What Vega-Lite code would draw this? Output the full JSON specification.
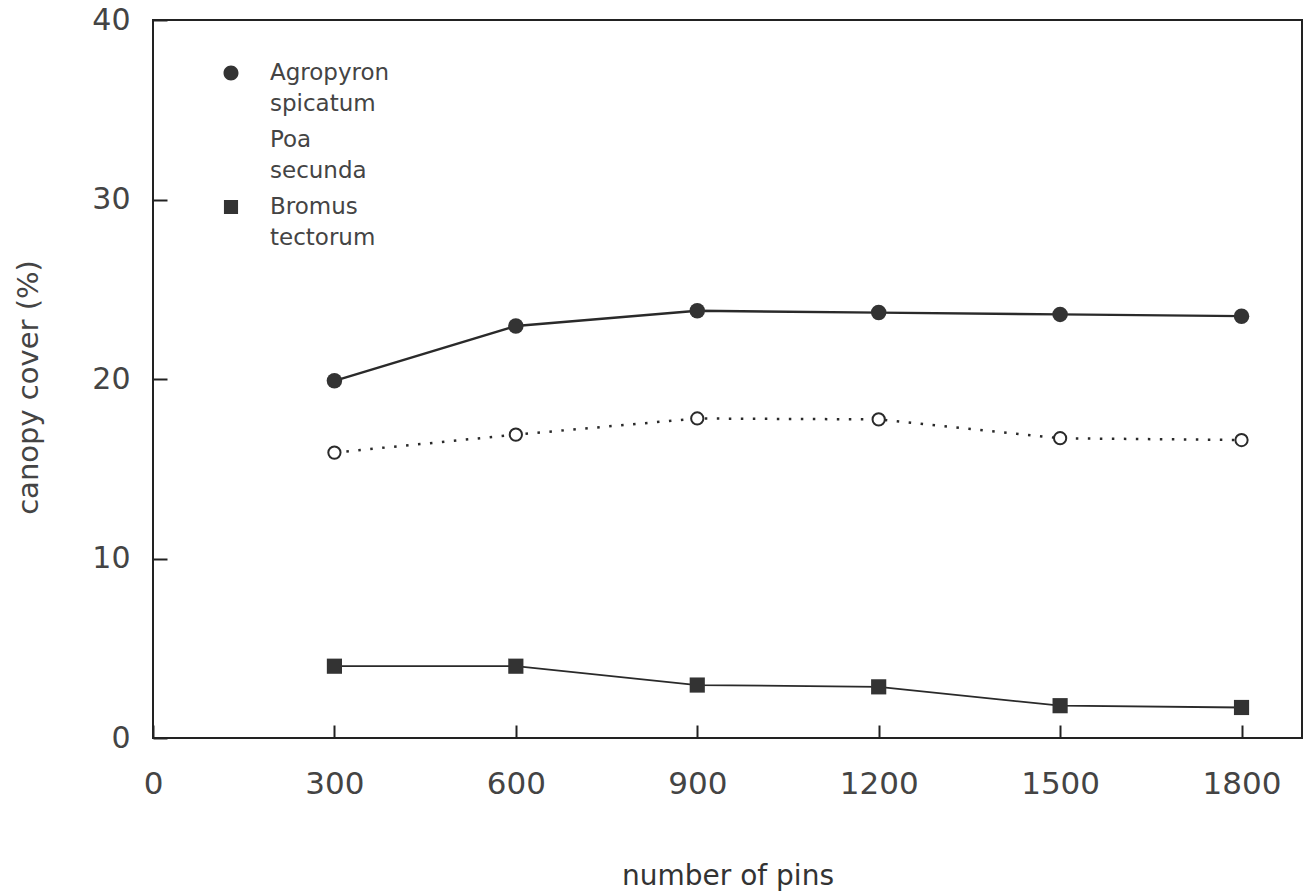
{
  "$schema": "https://vega.github.io/schema/vega-lite/v6.json",
  "width": 1149,
  "height": 718,
  "autosize": "none",
  "padding": {"left": 153, "top": 20, "right": 3, "bottom": 157},
  "background": "white",
  "config": {
    "view": {"stroke": "#222", "strokeWidth": 2},
    "font": "DejaVu Sans",
    "style": {"guide-label": {"lineHeight": 31}}
  },
  "data": {
    "values": [
      {"pins": 300, "cover": 19.9, "species": "Agropyron spicatum"},
      {"pins": 600, "cover": 22.95, "species": "Agropyron spicatum"},
      {"pins": 900, "cover": 23.8, "species": "Agropyron spicatum"},
      {"pins": 1200, "cover": 23.7, "species": "Agropyron spicatum"},
      {"pins": 1500, "cover": 23.6, "species": "Agropyron spicatum"},
      {"pins": 1800, "cover": 23.5, "species": "Agropyron spicatum"},
      {"pins": 300, "cover": 15.9, "species": "Poa secunda"},
      {"pins": 600, "cover": 16.9, "species": "Poa secunda"},
      {"pins": 900, "cover": 17.8, "species": "Poa secunda"},
      {"pins": 1200, "cover": 17.75, "species": "Poa secunda"},
      {"pins": 1500, "cover": 16.7, "species": "Poa secunda"},
      {"pins": 1800, "cover": 16.6, "species": "Poa secunda"},
      {"pins": 300, "cover": 4.0, "species": "Bromus tectorum"},
      {"pins": 600, "cover": 4.0, "species": "Bromus tectorum"},
      {"pins": 900, "cover": 2.95, "species": "Bromus tectorum"},
      {"pins": 1200, "cover": 2.85, "species": "Bromus tectorum"},
      {"pins": 1500, "cover": 1.8, "species": "Bromus tectorum"},
      {"pins": 1800, "cover": 1.7, "species": "Bromus tectorum"}
    ]
  },
  "encoding": {
    "x": {
      "field": "pins", "type": "quantitative",
      "scale": {"domain": [0, 1900], "nice": false, "zero": false},
      "axis": {
        "title": "number of pins",
        "values": [0, 300, 600, 900, 1200, 1500, 1800],
        "format": "d",
        "domain": false, "grid": false,
        "tickSize": -13, "tickColor": "#222", "tickWidth": 2,
        "labelFontSize": 31, "labelColor": "#444", "labelPadding": 44,
        "labelFlush": false,
        "titleFontSize": 28, "titleColor": "#333", "titleFontWeight": "normal",
        "titleBaseline": "alphabetic", "titleY": 146
      }
    },
    "y": {
      "field": "cover", "type": "quantitative",
      "scale": {"domain": [0, 40], "nice": false},
      "axis": {
        "title": "canopy cover (%)",
        "values": [0, 10, 20, 30, 40],
        "format": "d",
        "domain": false, "grid": false,
        "tickSize": -14, "tickColor": "#222", "tickWidth": 2,
        "labelFontSize": 30, "labelColor": "#444", "labelPadding": 37,
        "labelFlush": false,
        "titleFontSize": 29, "titleColor": "#444", "titleFontWeight": "normal",
        "titleAngle": -90, "titleBaseline": "middle", "titleAlign": "center",
        "titleX": -125, "titleY": 367
      }
    }
  },
  "layer": [
    {
      "transform": [{"filter": "datum.species === 'Agropyron spicatum'"}],
      "mark": {"type": "line", "color": "#2a2a2a", "strokeWidth": 2.4},
      "encoding": {}
    },
    {
      "transform": [{"filter": "datum.species === 'Poa secunda'"}],
      "mark": {"type": "line", "color": "#2a2a2a", "strokeWidth": 2.5, "strokeDash": [2.5, 9.5], "strokeCap": "butt"},
      "encoding": {}
    },
    {
      "transform": [{"filter": "datum.species === 'Bromus tectorum'"}],
      "mark": {"type": "line", "color": "#2a2a2a", "strokeWidth": 1.8},
      "encoding": {}
    },
    {
      "transform": [{"filter": "datum.species === 'Agropyron spicatum'"}],
      "mark": {"type": "point", "shape": "circle", "filled": true, "color": "#333333", "size": 240, "opacity": 1},
      "encoding": {}
    },
    {
      "transform": [{"filter": "datum.species === 'Poa secunda'"}],
      "mark": {"type": "point", "shape": "circle", "filled": false, "fill": "#ffffff", "stroke": "#2a2a2a", "strokeWidth": 2, "size": 150, "opacity": 1},
      "encoding": {}
    },
    {
      "transform": [{"filter": "datum.species === 'Bromus tectorum'"}],
      "mark": {"type": "point", "shape": "square", "filled": true, "color": "#333333", "size": 230, "opacity": 1},
      "encoding": {}
    },
    {
      "mark": {"type": "point", "filled": false, "size": 0, "strokeWidth": 0, "stroke": "#2a2a2a"},
      "encoding": {
        "fill": {
          "field": "species", "type": "nominal",
          "scale": {"domain": ["Agropyron spicatum", "Poa secunda", "Bromus tectorum"], "range": ["#333333", "#ffffff", "#333333"]},
          "legend": null
        },
        "shape": {
          "field": "species", "type": "nominal",
          "scale": {
            "domain": ["Agropyron spicatum", "Poa secunda", "Bromus tectorum"],
            "range": [
              "M-2.35,0H2.35M-0.5,0A0.5,0.5 0 1,1 0.5,0A0.5,0.5 0 1,1 -0.5,0Z",
              "M-2.35,0H-2.2M-1.8,0H-1.65M-1.25,0H-1.1M1.1,0H1.25M1.65,0H1.8M2.2,0H2.35M-0.45,0A0.45,0.45 0 1,1 0.45,0A0.45,0.45 0 1,1 -0.45,0Z",
              "M-2.35,0H2.35M-0.47,-0.47H0.47V0.47H-0.47Z"
            ]
          },
          "legend": {
            "title": null,
            "orient": "none",
            "legendX": 62,
            "legendY": 37,
            "symbolSize": 900,
            "symbolStrokeWidth": 2,
            "symbolStrokeColor": "#2a2a2a",
            "symbolOpacity": 1,
            "labelFontSize": 23,
            "labelColor": "#444",
            "labelBaseline": "middle",
            "labelLimit": 300,
            "labelOffset": 23,
            "rowPadding": 8,
            "labelExpr": "split(datum.label, ' ')",
            "encode": {
              "symbols": {"update": {
                "fill": {"signal": "datum.value === 'Poa secunda' ? 'white' : '#333'"}
              }}
            }
          }
        }
      }
    }
  ]
}
